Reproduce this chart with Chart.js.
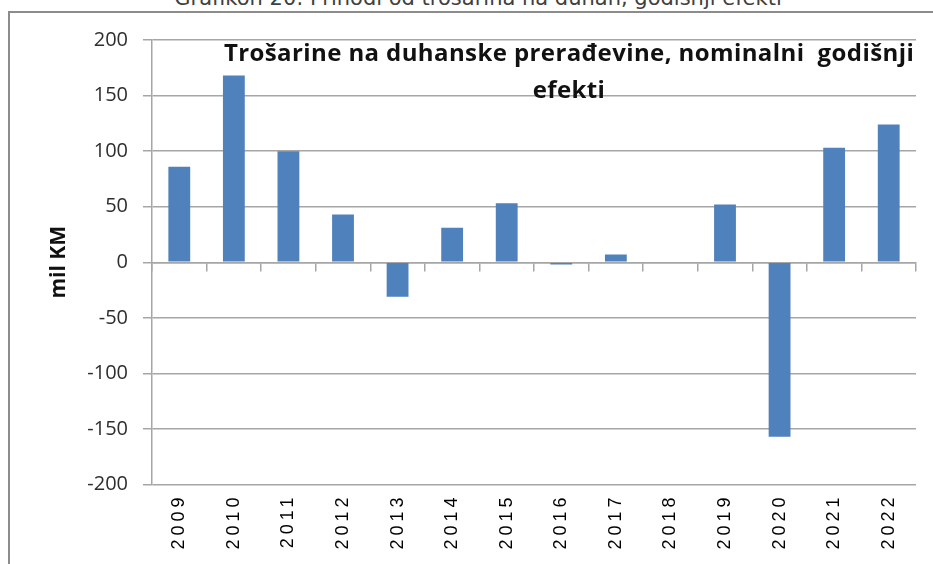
<!DOCTYPE html>
<html>
<head>
<meta charset="utf-8">
<script src="https://cdn.jsdelivr.net/npm/chart.js@4"></script>
<style>
  html, body { margin: 0; padding: 0; background: #fff; overflow: hidden; }
  #wrap { position: relative; width: 933px; height: 564px; }
  #caption {
    position: absolute; left: 0; width: 956px; top: -14px; text-align: center;
    font: 21px "DejaVu Sans", sans-serif; color: #404040; white-space: nowrap;
  }
  #frame {
    position: absolute; left: 8px; top: 11px; width: 940px; height: 600px;
    border: 2px solid #8c8c8c; box-sizing: border-box;
  }
  #title {
    position: absolute; left: 200px; width: 738px; top: 33px; text-align: center;
    font: bold 24px "Open Sans", sans-serif; letter-spacing: 0.4px; line-height: 37px; color: #111;
  }
  canvas { position: absolute; left: 0; top: 0; }
</style>
</head>
<body>
<div id="wrap">
  <div id="caption">Grafikon 20: Prihodi od trošarina na duhan, godišnji efekti</div>
  <div id="frame"></div>
  <canvas id="c" width="933" height="564"></canvas>
  <div id="title">Trošarine na duhanske prerađevine, nominalni&nbsp; godišnji<br>efekti</div>
</div>
<script>
// podaci sa grafikona
const years = ['2009', '2010', '2011', '2012', '2013', '2014', '2015', '2016', '2017', '2018', '2019', '2020', '2021', '2022'];
const efekti = [86, 168, 100, 43, -31, 31, 53, -2, 7, 0, 52, -157, 103, 124];
const yTicks = [200, 150, 100, 50, 0, -50, -100, -150, -200];
const yAxisTitle = 'mil KM';

const gridGray = '#a6a6a6';

// razmak između cifara na x osi
const spacedLabels = {
  id: 'spacedLabels',
  beforeDraw(chart) {
    const sc = chart.scales.x;
    if (!sc || sc._spaced) return;
    const orig = sc.drawLabels;
    sc.drawLabels = function (area) {
      chart.ctx.save();
      chart.ctx.letterSpacing = '4px';
      orig.call(this, area);
      chart.ctx.restore();
    };
    sc._spaced = true;
  }
};

new Chart(document.getElementById('c'), {
  type: 'bar',
  data: {
    labels: years,
    datasets: [{
      data: efekti,
      backgroundColor: '#4f81bd',
      borderWidth: 0,
      barPercentage: 0.4,
      categoryPercentage: 1
    }]
  },
  options: {
    responsive: false,
    animation: false,
    layout: { padding: { left: 42, top: 40, right: 17, bottom: 0 } },
    plugins: { legend: { display: false }, tooltip: { enabled: false } },
    scales: {
      x: {
        position: 'bottom',
        offset: true,
        grid: { display: false, drawTicks: false },
        border: { display: false },
        ticks: {
          color: '#000',
          font: { family: 'Liberation Sans', size: 18 },
          minRotation: 90, maxRotation: 90,
          padding: 9,
          autoSkip: false
        },
        afterFit(s) { s.height = 79.5; }
      },
      x2: {
        axis: 'x',
        type: 'category',
        labels: years,
        position: { y: 0 },
        offset: true,
        grid: { offset: true, drawOnChartArea: false, drawTicks: true, tickLength: 8, color: gridGray, lineWidth: 1.5 },
        border: { display: true, color: gridGray, width: 1.5 },
        ticks: { display: false }
      },
      y: {
        min: -200, max: 200,
        afterBuildTicks(s) { s.ticks = yTicks.map(v => ({ value: v })); },
        grid: { color: gridGray, lineWidth: 1.5, tickLength: 9 },
        border: { color: gridGray, width: 1.5 },
        ticks: {
          color: '#2e2e2e',
          font: { family: 'Open Sans', size: 20 },
          padding: 15
        },
        title: {
          display: true,
          text: yAxisTitle,
          color: '#111',
          font: { family: 'Open Sans', size: 21, weight: 'bold' },
          padding: { top: 4, bottom: 0 }
        },
        afterFit(s) { s.width = 110; }
      }
    }
  },
  plugins: [spacedLabels]
});
</script>
</body>
</html>
